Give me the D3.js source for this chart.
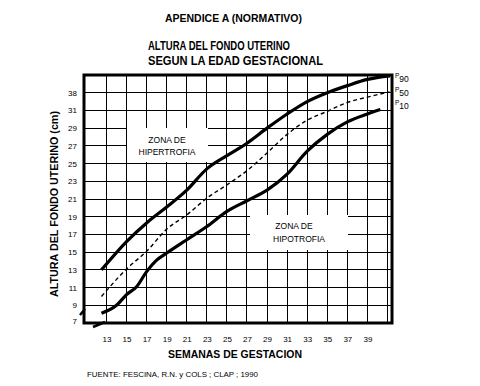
<!DOCTYPE html>
<html><head><meta charset="utf-8">
<script src="https://cdn.jsdelivr.net/npm/d3@7"></script>
<style>html,body{margin:0;padding:0;background:#fff}svg{display:block}</style>
</head><body>
<script>
// ---- data ----
const xTicks = [13,15,17,19,21,23,25,27,29,31,33,35,37,39];
const xGrid = [13,15,17,19,21,23,25,27,29,31,33,35,37,39,41];
const yTicks = [7,9,11,13,15,17,19,21,23,25,27,29,31,33];
const yTickLabels = ["7","9","11","13","15","17","19","21","23","25","27","29","31","38"];
const p90Weeks = [12.5,15,17,19,21,23,25,27,29,31,33,35,37,39,41.25];
const p90Vals  = [13.0,16.2,18.3,20.1,22.0,24.4,25.9,27.3,29.0,30.6,32.0,33.0,33.8,34.5,34.9];
const p50Weeks = [12.5,15,17,19,21,23,25,27,29,31,33,35,37,39,41.2];
const p50Vals  = [10.0,13.1,15.1,17.6,19.2,21.1,22.6,24.2,26.2,28.3,29.9,30.9,31.9,32.5,33.1];
const p10Weeks = [12.5,14,15,16,17,18,19,21,23,25,27,29,31,33,35,37,39,40.3];
const p10Vals  = [8.1,9.0,10.2,11.1,12.8,14.1,14.9,16.4,17.9,19.6,20.8,22.0,23.8,26.4,28.3,29.7,30.6,31.1];

const W = 480, H = 386;
const svg = d3.select("body").append("svg").attr("width", W).attr("height", H);
const x = d3.scaleLinear().domain([10.76, 41.45]).range([84, 392]);
const y = d3.scaleLinear().domain([7, 35]).range([323, 75]);
const font = "'Liberation Sans', Arial, sans-serif";

// grid
const g = svg.append("g");
g.selectAll("line.v").data(xGrid).join("line")
  .attr("x1", d => x(d)).attr("x2", d => x(d)).attr("y1", y(35)).attr("y2", y(7))
  .attr("stroke", "#000").attr("stroke-width", 1).attr("shape-rendering", "crispEdges");
g.selectAll("line.h").data(yTicks.slice(1)).join("line")
  .attr("x1", x(10.76)).attr("x2", x(41.45)).attr("y1", d => y(d)).attr("y2", d => y(d))
  .attr("stroke", "#000").attr("stroke-width", 1).attr("shape-rendering", "crispEdges");

// zone boxes (white, erase grid)
svg.append("rect").attr("x", 127).attr("y", 128).attr("width", 81).attr("height", 34).attr("fill", "#fff");
svg.append("rect").attr("x", 250).attr("y", 215).attr("width", 98).attr("height", 35).attr("fill", "#fff");
const zt = (t, cx, cy) => svg.append("text").attr("x", cx).attr("y", cy).attr("text-anchor", "middle")
  .attr("font-family", font).attr("font-size", 8.5).text(t);
zt("ZONA  DE", 167, 143);
zt("HIPERTROFIA", 167, 155);
zt("ZONA  DE", 294, 229);
zt("HIPOTROFIA", 299, 242);

// frame
svg.append("rect").attr("x", x(10.76)).attr("y", y(35)).attr("width", x(41.45) - x(10.76)).attr("height", y(7) - y(35))
  .attr("fill", "none").attr("stroke", "#000").attr("stroke-width", 3);

// axes labels via d3 axes
const xAxis = d3.axisBottom(x).tickValues(xTicks).tickSize(0).tickPadding(0);
const xa = svg.append("g").attr("transform", `translate(0,${y(7) + 19})`).call(xAxis);
xa.select(".domain").remove();
xa.selectAll("text").attr("font-family", font).attr("font-size", 8).attr("fill", "#000").attr("dy", 0);

const yAxis = d3.axisLeft(y).tickValues(yTicks).tickSize(0).tickPadding(0)
  .tickFormat((d, i) => yTickLabels[i]);
const ya = svg.append("g").attr("transform", `translate(${x(10.76) - 7},0)`).call(yAxis);
ya.select(".domain").remove();
ya.selectAll("text").attr("font-family", font).attr("font-size", 8).attr("fill", "#000");
ya.selectAll(".tick").filter(d => d === 7).attr("transform", `translate(0,${y(7) - 2})`);

// curves
const line = d3.line().x(d => x(d[0])).y(d => y(d[1])).curve(d3.curveMonotoneX);
const zip = (a, b) => a.map((w, i) => [w, b[i]]);
svg.append("path").attr("d", line(zip(p90Weeks, p90Vals))).attr("fill", "none").attr("stroke", "#000").attr("stroke-width", 3.2);
svg.append("path").attr("d", line(zip(p50Weeks, p50Vals))).attr("fill", "none").attr("stroke", "#000").attr("stroke-width", 1.4).attr("stroke-dasharray", "4,3");
svg.append("path").attr("d", line(zip(p10Weeks, p10Vals))).attr("fill", "none").attr("stroke", "#000").attr("stroke-width", 3.2);

// axis break marks
const x0 = x(10.76), y0 = y(7);
svg.append("line").attr("x1", x0 - 4).attr("y1", y0 - 8).attr("x2", x0 + 1).attr("y2", y0 - 14).attr("stroke", "#000").attr("stroke-width", 2.5);
svg.append("line").attr("x1", x0 + 9).attr("y1", y0 + 4).attr("x2", x0 + 21).attr("y2", y0 - 1).attr("stroke", "#000").attr("stroke-width", 2.5);

// percentile labels
const pl = (num, yy) => {
  const t = svg.append("text").attr("x", 395).attr("y", yy).attr("font-family", font).attr("fill", "#000");
  t.append("tspan").attr("font-size", 6.5).text("P");
  t.append("tspan").attr("font-size", 8.5).attr("dy", 4).text(num);
};
pl("90", 78);
pl("50", 92);
pl("10", 105);

// titles
const txt = (t, xx, yy, size, weight, len, anchor) => {
  const s = svg.append("text").attr("x", xx).attr("y", yy).attr("font-family", font)
    .attr("font-size", size).attr("font-weight", weight).attr("text-anchor", anchor || "start").text(t);
  if (len) s.attr("textLength", len).attr("lengthAdjust", "spacingAndGlyphs");
  return s;
};
txt("APENDICE A (NORMATIVO)", 165, 22, 10, "bold", 137);
txt("ALTURA DEL FONDO UTERINO", 148, 50, 12.5, "bold", 142);
txt("SEGUN LA EDAD GESTACIONAL", 148, 65, 12.5, "bold", 175);
txt("SEMANAS DE GESTACION", 168, 358, 11, "bold", 134);
txt("FUENTE: FESCINA, R.N. y COLS ; CLAP ; 1990", 87, 377, 8, "normal", 171);
txt("ALTURA DEL FONDO UTERINO (cm)", 0, 0, 11, "bold", 186, "middle")
  .attr("transform", "translate(58,204) rotate(-90)");
</script>
</body></html>
